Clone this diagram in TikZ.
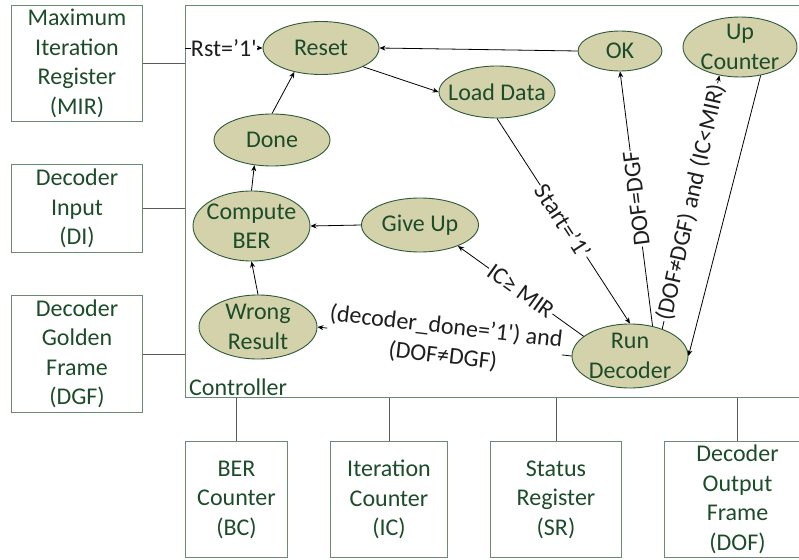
\documentclass[tikz,border=0pt]{standalone}
\usepackage{fontspec}
\setmainfont{Carlito}[Ligatures=TeXOff]
\usetikzlibrary{shapes.geometric,arrows.meta}
\definecolor{stfill}{RGB}{211,210,171}
\definecolor{stdraw}{RGB}{45,90,55}
\definecolor{txtgreen}{RGB}{28,76,42}
\definecolor{boxdraw}{RGB}{105,138,115}
\definecolor{lbl}{RGB}{30,30,30}
\definecolor{conngray}{RGB}{90,90,90}
\begin{document}
\begin{tikzpicture}[x=1pt,y=-1pt,
  font=\fontsize{24}{29.5}\selectfont,
  st/.style={ellipse, draw=stdraw, line width=0.9pt, fill=stfill, inner sep=0pt},
  sttxt/.style={text=txtgreen, align=center, inner sep=0pt},
  blk/.style={draw=boxdraw, line width=1pt, text=txtgreen, align=center, inner sep=0pt, anchor=north west},
  conn/.style={draw=conngray, line width=1pt},
  arr/.style={draw=black, line width=0.8pt, -{Stealth[length=6pt,width=5pt]}},
  elbl/.style={text=lbl, fill=white, inner sep=1pt}]
\useasboundingbox (0,0) rectangle (799,559);
\clip (0,0) rectangle (799,559);

% controller frame
\node[blk, minimum width=625pt, minimum height=392pt] (ctrl) at (185,5) {};
\node[anchor=base west, text=txtgreen, inner sep=0pt] (ctrllbl) at (189,395) {Controller};

% side blocks
\node[blk, minimum width=131pt, minimum height=116pt] (mir) at (11,5) {Maximum\\Iteration\\Register\\(MIR)};
\node[blk, minimum width=131pt, minimum height=88pt] (di) at (11,164) {Decoder\\Input\\(DI)};
\node[blk, minimum width=131pt, minimum height=117pt] (dgf) at (11,295) {Decoder\\Golden\\Frame\\(DGF)};
\node[blk, minimum width=102pt, minimum height=116pt] (bc) at (185,441) {BER\\Counter\\(BC)};
\node[blk, minimum width=117pt, minimum height=116pt] (ic) at (330,441) {Iteration\\Counter\\(IC)};
\node[blk, minimum width=131pt, minimum height=116pt] (sr) at (490,441) {Status\\Register\\(SR)};
\node[blk, minimum width=146pt, minimum height=116pt] (dof) at (664,441) {Decoder\\Output\\Frame\\(DOF)};

\draw[conn] (mir.east) -- (mir.east -| ctrl.west);
\draw[conn] (di.east) -- (di.east -| ctrl.west);
\draw[conn] (dgf.east) -- (dgf.east -| ctrl.west);
\draw[conn] (bc.north) -- (bc.north |- ctrl.south);
\draw[conn] (ic.north) -- (ic.north |- ctrl.south);
\draw[conn] (sr.north) -- (sr.north |- ctrl.south);
\draw[conn] (dof.north) -- (dof.north |- ctrl.south);

% states
\node[st, minimum width=116pt, minimum height=53pt, label={[sttxt]center:Reset}] (reset) at (321,48) {};
\node[st, minimum width=84pt, minimum height=40pt, label={[sttxt]center:OK}] (ok) at (620,51) {};
\node[st, minimum width=114pt, minimum height=60pt, label={[sttxt]center:Up\\Counter}] (up) at (740,47) {};
\node[st, minimum width=116pt, minimum height=52pt, label={[sttxt]center:Load Data}] (load) at (497,92) {};
\node[st, minimum width=116pt, minimum height=52pt, label={[sttxt]center:Done}] (done) at (272,140) {};
\node[st, minimum width=117pt, minimum height=70pt, label={[sttxt]center:Compute\\BER}] (cber) at (251.5,226) {};
\node[st, minimum width=117pt, minimum height=54pt, label={[sttxt]center:Give Up}] (giveup) at (420,225) {};
\node[st, minimum width=118pt, minimum height=64pt, label={[sttxt]center:Wrong\\Result}] (wrong) at (258,327) {};
\node[st, minimum width=116pt, minimum height=64pt, label={[sttxt]center:Run\\Decoder}] (run) at (630,356) {};

% transitions
\coordinate (rstin) at (185,48);
\draw[arr] (rstin) -- node[elbl, inner xsep=0pt]{Rst=’1'} (reset.west);
\draw[arr] (ok.west) -- (reset.east);
\draw[arr] (reset.-24) -- (load.west);
\draw[arr] (done.north) -- (reset.-138);
\draw[arr] (cber.north) -- (done.-125);
\draw[arr] (giveup.west) -- (cber.east);
\draw[arr] (wrong.north) -- (cber.south);
\draw[arr] (load.south) -- node[elbl, sloped]{Start=’1’} (run.north);
\draw[arr] (run.53) -- node[elbl, sloped, allow upside down]{DOF=DGF} (ok.south);
\draw[arr] (run.40) -- node[elbl, sloped]{(DOF≠DGF) and (IC<MIR)} (up.-126);
\draw[arr] (up.-54) -- (run.east);
\draw[arr] (run.157) -- node[elbl, sloped]{IC≥ MIR} (giveup.-29);
\draw[arr] (run.west) -- node[elbl, sloped, align=center]{(decoder\_done=’1') and\\(DOF≠DGF)} (wrong.east);
\end{tikzpicture}
\end{document}
